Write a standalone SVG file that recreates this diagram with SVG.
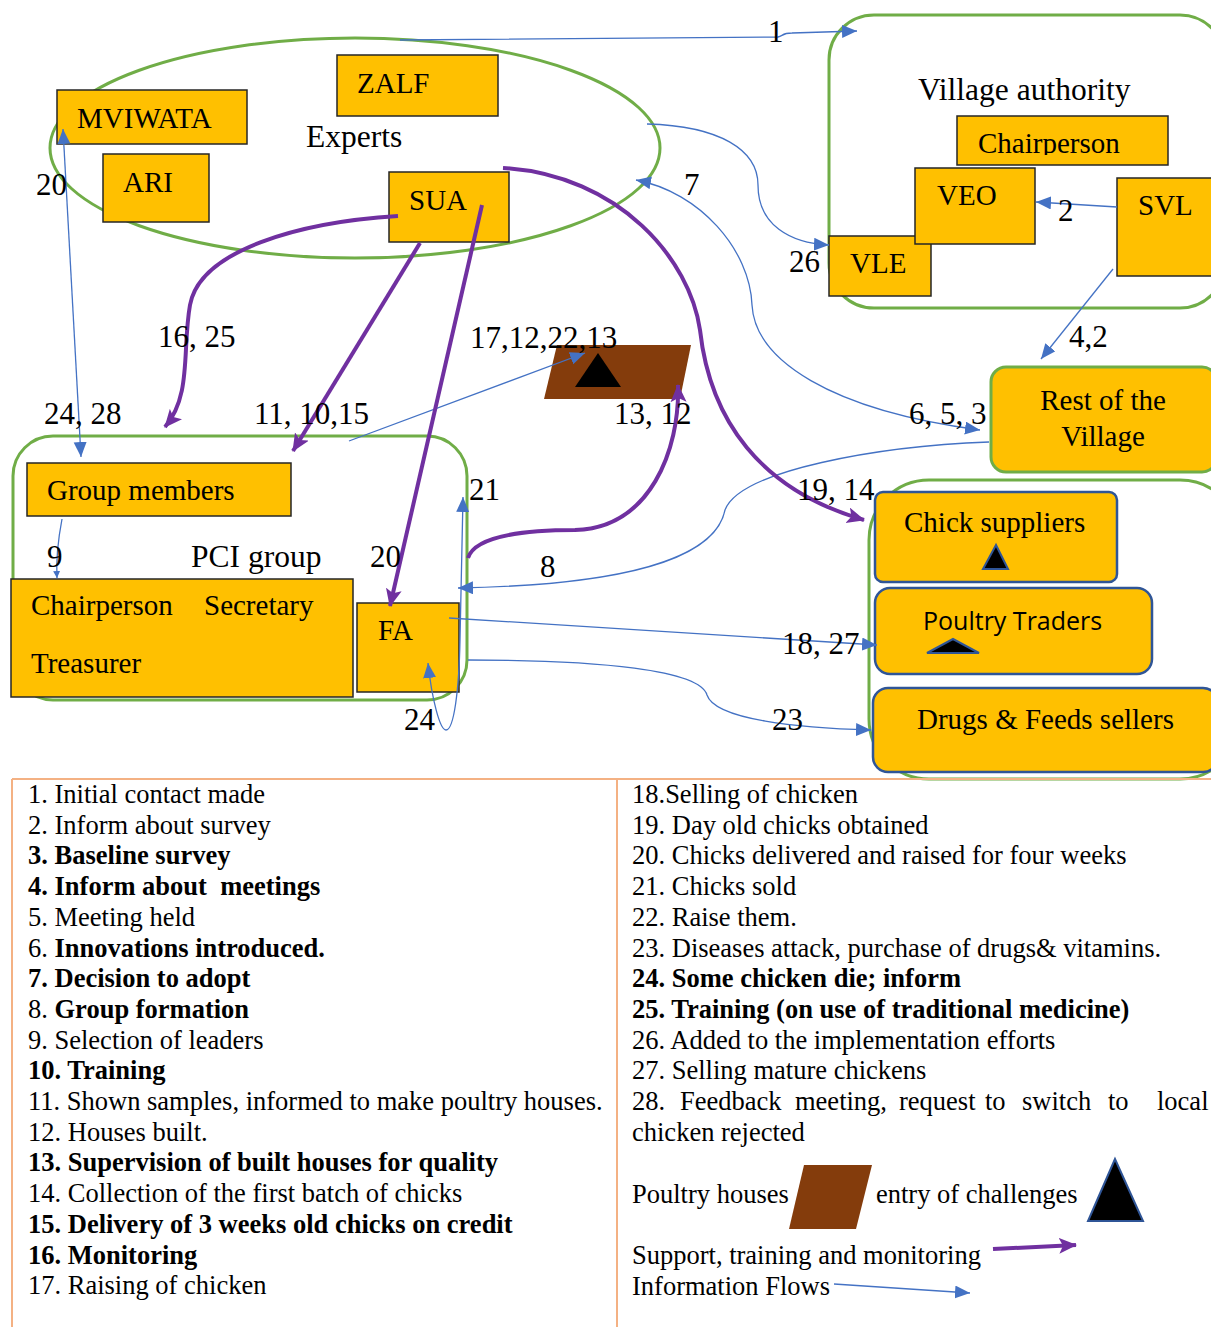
<svg xmlns="http://www.w3.org/2000/svg" width="1211" height="1327" viewBox="0 0 1211 1327">
  <style>
    text { font-family: "Liberation Serif", "Times New Roman", serif; fill: #000; }
    .lbl { font-size: 29px; }
    .num { font-size: 31px; }
    .ttl { font-size: 31.5px; }
    .tbl { font-size: 26.5px; }
    .tbl text { white-space: pre; }
    .b { font-weight: bold; }
    .sans { font-family: "Open Sans", "Noto Sans", sans-serif; font-size: 25px; }
    .box { fill: #FFC000; stroke: #262626; stroke-width: 1.5; }
    .bbox { fill: #FFC000; stroke: #2F5597; stroke-width: 2.5; }
    .gbox { fill: #FFC000; stroke: #70AD47; stroke-width: 3; }
    .grp { fill: none; stroke: #70AD47; stroke-width: 3; }
    .info { fill: none; stroke: #4472C4; stroke-width: 1.3; }
    .sup { fill: none; stroke: #7030A0; stroke-width: 4; }
    .tri { fill: #000; stroke: #2F5597; stroke-width: 2; }
    .house { fill: #843C0C; }
    .rule { stroke: #F4B183; stroke-width: 2; fill: none; }
  </style>
  <defs>
    <marker id="ah" markerUnits="userSpaceOnUse" markerWidth="16" markerHeight="14" refX="15" refY="6.5" orient="auto-start-reverse">
      <path d="M0,0 L15,6.5 L0,13 z" fill="#4472C4"/>
    </marker>
    <marker id="ahs" markerUnits="userSpaceOnUse" markerWidth="8" markerHeight="8" refX="7" refY="3.5" orient="auto">
      <path d="M0,0 L7,3.5 L0,7 z" fill="#4472C4"/>
    </marker>
    <marker id="ap" markerUnits="userSpaceOnUse" markerWidth="19" markerHeight="17" refX="17" refY="8" orient="auto">
      <path d="M0,0 L18,8 L0,16 L4,8 z" fill="#7030A0"/>
    </marker>
    <clipPath id="clipChair">
      <rect x="957" y="116" width="211" height="39"/>
    </clipPath>
  </defs>

  <!-- Group outlines -->
  <g id="experts">
    <ellipse class="grp" cx="355" cy="148" rx="305" ry="110"/>
    <text class="ttl" x="306" y="147">Experts</text>
  </g>
  <g id="village-authority">
    <rect class="grp" x="829" y="15" width="396" height="293" rx="45"/>
    <text class="ttl" x="918" y="100">Village authority</text>
  </g>
  <g id="pci-group">
    <rect class="grp" x="13" y="436" width="454" height="264" rx="40"/>
    <text class="ttl" x="191" y="567">PCI group</text>
  </g>
  <g id="market-actors">
    <rect class="grp" x="869" y="480" width="371" height="299" rx="60"/>
  </g>

  <!-- Expert organisations -->
  <g id="mviwata">
    <rect class="box" x="57" y="90" width="190" height="54"/>
    <text class="lbl" x="77" y="128">MVIWATA</text>
  </g>
  <g id="ari">
    <rect class="box" x="103" y="154" width="106" height="68"/>
    <text class="lbl" x="123" y="192">ARI</text>
  </g>
  <g id="zalf">
    <rect class="box" x="337" y="55" width="161" height="61"/>
    <text class="lbl" x="357" y="93">ZALF</text>
  </g>
  <g id="sua">
    <rect class="box" x="389" y="172" width="120" height="70"/>
    <text class="lbl" x="409" y="210">SUA</text>
  </g>

  <!-- Village authority members -->
  <g id="va-chairperson">
    <rect class="box" x="957" y="116" width="211" height="49"/>
    <text class="lbl" x="978" y="153" clip-path="url(#clipChair)">Chairperson</text>
  </g>
  <g id="vle">
    <rect class="box" x="829" y="236" width="102" height="60"/>
    <text class="lbl" x="850" y="273">VLE</text>
  </g>
  <g id="veo">
    <rect class="box" x="915" y="168" width="120" height="76"/>
    <text class="lbl" x="937" y="205">VEO</text>
  </g>
  <g id="svl">
    <rect class="box" x="1117" y="178" width="96" height="98"/>
    <text class="lbl" x="1138" y="215">SVL</text>
  </g>
  <g id="rest-of-village">
    <rect class="gbox" x="991" y="367" width="226" height="105" rx="15"/>
    <text class="lbl" x="1103" y="410" text-anchor="middle">Rest of the</text>
    <text class="lbl" x="1103" y="446" text-anchor="middle">Village</text>
  </g>

  <!-- PCI group members -->
  <g id="group-members">
    <rect class="box" x="27" y="463" width="264" height="53"/>
    <text class="lbl" x="47" y="500">Group members</text>
  </g>
  <g id="group-leaders">
    <rect class="box" x="11" y="579" width="342" height="118"/>
    <text class="lbl" x="31" y="615">Chairperson</text>
    <text class="lbl" x="204" y="615">Secretary</text>
    <text class="lbl" x="31" y="673">Treasurer</text>
  </g>
  <g id="fa">
    <rect class="box" x="357" y="603" width="102" height="89"/>
    <text class="lbl" x="378" y="640">FA</text>
  </g>

  <!-- Poultry house with challenge mark -->
  <g id="poultry-house">
    <polygon class="house" points="557,345 691,345 680,399 544,399"/>
    <polygon points="598,353 575,387 621,387" fill="#000"/>
  </g>

  <!-- Market actors -->
  <g id="chick-suppliers">
    <rect class="bbox" x="875" y="492" width="242" height="90" rx="8"/>
    <text class="lbl" x="904" y="532">Chick suppliers</text>
    <polygon class="tri" points="996,545 983,569 1008,569"/>
  </g>
  <g id="poultry-traders">
    <rect class="bbox" x="875" y="588" width="277" height="86" rx="15"/>
    <text class="sans" x="923" y="630">Poultry Traders</text>
    <polygon class="tri" points="953,639 927,653 979,653"/>
  </g>
  <g id="drugs-feeds">
    <rect class="bbox" x="873" y="688" width="345" height="84" rx="15"/>
    <text class="lbl" x="917" y="729">Drugs &amp; Feeds sellers</text>
  </g>

  <!-- Connectors -->
  <g id="connectors">
    <!-- information flows -->
    <path class="info" d="M400 40 L778 37 C783 36 782 33 792 33 L857 31" marker-end="url(#ah)"/>
    <path class="info" d="M1117 207 L1036 202" marker-end="url(#ah)"/>
    <path class="info" d="M647 124 C720 126 758 150 758 185 C758 225 790 243 829 245" marker-end="url(#ah)"/>
    <path class="info" d="M636 180 C700 192 750 250 752 305 C755 360 830 410 980 430" marker-start="url(#ah)" marker-end="url(#ah)"/>
    <path class="info" d="M1113 269 L1041 359" marker-end="url(#ah)"/>
    <path class="info" d="M989 442 C880 446 740 470 725 510 C715 560 620 585 458 588" marker-end="url(#ah)"/>
    <path class="info" d="M63 129 L81 457" marker-start="url(#ah)" marker-end="url(#ah)"/>
    <path class="info" d="M62 519 C58 540 56 560 57 578" marker-end="url(#ahs)"/>
    <path class="info" d="M349 441 L585 353" marker-end="url(#ah)"/>
    <path class="info" d="M428 663 C432 700 440 730 446 730 C454 730 459 690 460 640 L463 497" marker-start="url(#ah)" marker-end="url(#ah)"/>
    <path class="info" d="M449 618 L877 645" marker-end="url(#ah)"/>
    <path class="info" d="M468 660 C600 660 700 670 707 695 C715 720 800 728 871 730" marker-end="url(#ah)"/>
    <!-- support, training and monitoring -->
    <path class="sup" d="M398 216 C300 222 200 250 190 305 C182 350 192 395 165 427" marker-end="url(#ap)"/>
    <path class="sup" d="M420 243 L293 451" marker-end="url(#ap)"/>
    <path class="sup" d="M482 205 L390 606" marker-end="url(#ap)"/>
    <path class="sup" d="M503 168 C620 175 690 260 700 330 C710 420 760 490 864 520" marker-end="url(#ap)"/>
    <path class="sup" d="M468 558 C475 535 530 530 575 530 C650 528 680 450 678 385" marker-end="url(#ap)"/>
  </g>

  <!-- Step numbers on the connectors -->
  <g id="step-numbers" class="num">
    <text x="768" y="42">1</text>
    <text x="1058" y="221">2</text>
    <text x="684" y="195">7</text>
    <text x="789" y="272">26</text>
    <text x="1069" y="347">4,2</text>
    <text x="909" y="424">6, 5, 3</text>
    <text x="36" y="195">20</text>
    <text x="158" y="347">16, 25</text>
    <text x="470" y="348">17,12,22,13</text>
    <text x="44" y="424">24, 28</text>
    <text x="254" y="424">11, 10,15</text>
    <text x="614" y="424">13, 12</text>
    <text x="469" y="500">21</text>
    <text x="797" y="500">19, 14</text>
    <text x="47" y="567">9</text>
    <text x="370" y="567">20</text>
    <text x="540" y="577">8</text>
    <text x="782" y="654">18, 27</text>
    <text x="772" y="730">23</text>
    <text x="404" y="730">24</text>
  </g>

  <!-- Key table -->
  <g id="key-table">
    <path class="rule" d="M12 779 H1211 M12 779 V1327 M617 779 V1327"/>
    <g class="tbl">
      <text x="28" y="803">1. Initial contact made</text>
      <text x="28" y="833.7">2. Inform about survey</text>
      <text x="28" y="864.4" class="b">3. Baseline survey</text>
      <text x="28" y="895.1" class="b" xml:space="preserve">4. Inform about  meetings</text>
      <text x="28" y="925.8">5. Meeting held</text>
      <text x="28" y="956.5">6. <tspan class="b">Innovations introduced.</tspan></text>
      <text x="28" y="987.2" class="b">7. Decision to adopt</text>
      <text x="28" y="1017.9">8. <tspan class="b">Group formation</tspan></text>
      <text x="28" y="1048.6">9. Selection of leaders</text>
      <text x="28" y="1079.3" class="b">10. Training</text>
      <text x="28" y="1110">11. Shown samples, informed to make poultry houses.</text>
      <text x="28" y="1140.7">12. Houses built.</text>
      <text x="28" y="1171.4" class="b">13. Supervision of built houses for quality</text>
      <text x="28" y="1202.1">14. Collection of the first batch of chicks</text>
      <text x="28" y="1232.8" class="b">15. Delivery of 3 weeks old chicks on credit</text>
      <text x="28" y="1263.5" class="b">16. Monitoring</text>
      <text x="28" y="1294.2">17. Raising of chicken</text>

      <text x="632" y="803">18.Selling of chicken</text>
      <text x="632" y="833.7">19. Day old chicks obtained</text>
      <text x="632" y="864.4">20. Chicks delivered and raised for four weeks</text>
      <text x="632" y="895.1">21. Chicks sold</text>
      <text x="632" y="925.8">22. Raise them.</text>
      <text x="632" y="956.5">23. Diseases attack, purchase of drugs&amp; vitamins.</text>
      <text x="632" y="987.2" class="b">24. Some chicken die; inform</text>
      <text x="632" y="1017.9" class="b">25. Training (on use of traditional medicine)</text>
      <text x="632" y="1048.6">26. Added to the implementation efforts</text>
      <text x="632" y="1079.3">27. Selling mature chickens</text>
      <text y="1110"><tspan x="632">28.</tspan><tspan x="680">Feedback</tspan><tspan x="795">meeting,</tspan><tspan x="899">request</tspan><tspan x="985">to</tspan><tspan x="1022">switch</tspan><tspan x="1108">to</tspan><tspan x="1157">local</tspan></text>
      <text x="632" y="1140.7">chicken rejected</text>

      <text x="632" y="1203">Poultry houses</text>
      <text x="876" y="1203">entry of challenges</text>
      <text x="632" y="1264">Support, training and monitoring</text>
      <text x="632" y="1295">Information Flows</text>
    </g>
    <!-- legend symbols -->
    <polygon class="house" points="804,1165 872,1165 856,1229 789,1229"/>
    <polygon class="tri" points="1115,1159 1088,1221 1143,1221"/>
    <path class="sup" d="M993 1249 L1076 1245" marker-end="url(#ap)"/>
    <path class="info" d="M834 1284 L970 1293" marker-end="url(#ah)"/>
  </g>
</svg>
